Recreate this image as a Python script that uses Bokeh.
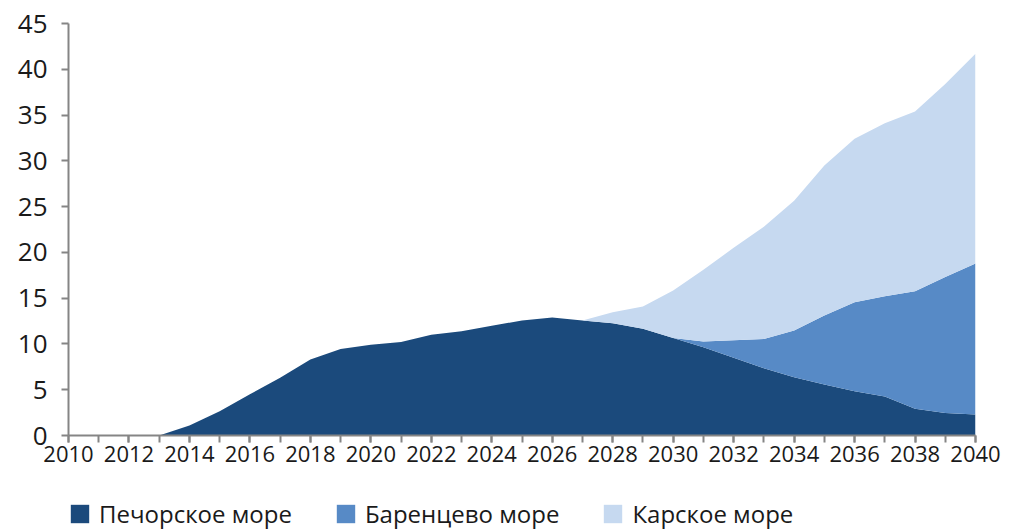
from bokeh.plotting import figure
from bokeh.layouts import column
from bokeh.models import ColumnDataSource, SingleIntervalTicker, Legend, LegendItem, Range1d
from bokeh.embed import file_html
from bokeh.resources import INLINE

years = list(range(2010, 2041))
# Печорское море
pechora = [0, 0, 0, 0, 1.1, 2.65, 4.5, 6.3, 8.3, 9.45, 9.9, 10.2, 11.0, 11.4, 12.0,
           12.55, 12.9, 12.55, 12.26, 11.65, 10.66, 9.64, 8.48, 7.35, 6.37, 5.57,
           4.84, 4.26, 2.91, 2.47, 2.29]
# Баренцево море
barents = [0] * 21 + [0.62, 1.92, 3.2, 5.09, 7.53, 9.71, 10.94, 12.84, 14.83, 16.51]
# Карское море
kara = [0] * 18 + [1.2, 2.43, 5.17, 7.84, 10.1, 12.25, 14.19, 16.4, 17.85, 18.9,
                   19.65, 21.1, 22.9]

series_names = ["Печорское море", "Баренцево море", "Карское море"]
colors = ["#1b4a7c", "#578ac6", "#c6d9f0"]

source = ColumnDataSource(dict(year=years, pechora=pechora, barents=barents, kara=kara))
stackers = ["pechora", "barents", "kara"]

p = figure(width=1011, height=480, output_backend="svg", toolbar_location=None,
           x_range=Range1d(2010, 2040), y_range=Range1d(0, 45),
           min_border_left=68, min_border_right=36, min_border_top=23,
           min_border_bottom=45, background_fill_color="white",
           border_fill_color="white")
p.outline_line_color = None
p.grid.visible = False

p.varea_stack(stackers, x="year", color=colors, source=source)

axis_color = "#858585"
font = "Open Sans"

p.xaxis.ticker = SingleIntervalTicker(interval=2, num_minor_ticks=2)
p.yaxis.ticker = SingleIntervalTicker(interval=5, num_minor_ticks=0)
for ax in (p.xaxis, p.yaxis):
    ax.axis_line_color = axis_color
    ax.axis_line_width = 2
    ax.major_tick_line_color = axis_color
    ax.major_tick_line_width = 2
    ax.minor_tick_line_color = axis_color
    ax.minor_tick_line_width = 2
    ax.major_tick_in = 0
    ax.major_tick_out = 7
    ax.minor_tick_in = 0
    ax.minor_tick_out = 7
    ax.major_label_text_font = font
    ax.major_label_text_color = "#1a1a1a"
p.yaxis.minor_tick_line_color = None
p.xaxis.major_label_text_font_size = "22px"
p.yaxis.major_label_text_font_size = "26px"
p.xaxis.major_label_standoff = 3
p.yaxis.major_label_standoff = 14

# legend strip: same series, drawn outside its visible range so only the legend shows
lg = figure(width=1011, height=50, output_backend="svg", toolbar_location=None,
            x_range=Range1d(0, 1), y_range=Range1d(0, 1),
            x_axis_type=None, y_axis_type=None, min_border=0,
            background_fill_color="white", border_fill_color="white")
lg.outline_line_color = None
lg.grid.visible = False
lg_renderers = lg.varea_stack(stackers, x="year", color=colors, source=source)

legend = Legend(items=[LegendItem(label=n, renderers=[r]) for n, r in zip(series_names, lg_renderers)],
                location=(0, 0), orientation="horizontal",
                glyph_width=23, glyph_height=23, label_standoff=8, spacing=42,
                padding=0, margin=0, border_line_color=None, background_fill_alpha=0,
                label_text_font=font, label_text_font_size="24px",
                label_text_color="#1a1a1a", label_height=23)
lg.add_layout(legend, "center")

layout = column(p, lg, spacing=0)
open("out.html", "w").write(file_html(layout, INLINE))
